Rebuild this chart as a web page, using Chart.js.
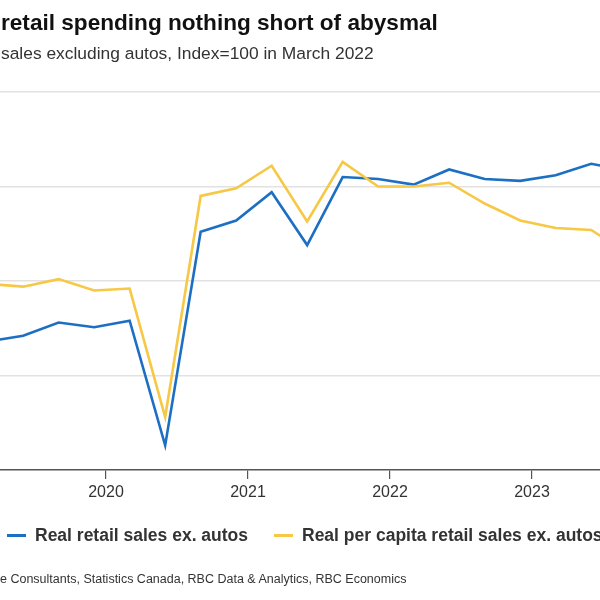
<!DOCTYPE html>
<html>
<head>
<meta charset="utf-8">
<script src="https://cdn.jsdelivr.net/npm/chart.js@4/dist/chart.umd.min.js"></script>
<style>
  html, body { margin: 0; padding: 0; background: #fff; }
  body { width: 600px; height: 600px; overflow: hidden; position: relative; font-family: "Liberation Sans", Arial, sans-serif; }
  #chart { position: absolute; left: -36px; top: 0; }
  .txt { position: absolute; white-space: nowrap; }
  #title { left: 1px; top: 10px; font-size: 22.6px; font-weight: bold; color: #111; line-height: 26px; }
  #subtitle { left: 1px; top: 43px; font-size: 17.4px; color: #333; line-height: 20px; }
  #source { left: 0px; top: 571px; font-size: 12.5px; color: #333; line-height: 16px; }
  .leg { position: absolute; top: 524px; height: 22px; display: flex; align-items: center; white-space: nowrap; font-size: 17.5px; font-weight: bold; color: #333; }
  .mark { display: inline-block; width: 19px; height: 3px; margin-right: 9px; }
</style>
</head>
<body>
<canvas id="chart" width="720" height="600"></canvas>
<div id="title" class="txt"></div>
<div id="subtitle" class="txt"></div>
<div id="legend"></div>
<div id="source" class="txt"></div>
<script>
// ---- data ----
const titleText = "retail spending nothing short of abysmal";
const subtitleText = "sales excluding autos, Index=100 in March 2022";
const sourceText = "e Consultants, Statistics Canada, RBC Data & Analytics, RBC Economics";

const categories = ['2019Q1','2019Q2','2019Q3','2019Q4','2020Q1','2020Q2','2020Q3','2020Q4',
                    '2021Q1','2021Q2','2021Q3','2021Q4','2022Q1','2022Q2','2022Q3','2022Q4',
                    '2023Q1','2023Q2','2023Q3'];
const realRetail = [91.8, 92.1, 92.8, 92.55, 92.9, 86.3, 97.6, 98.2, 99.7, 96.9, 100.5, 100.4,
                    100.1, 100.9, 100.4, 100.3, 100.6, 101.2, 100.85];
const perCapita  = [94.85, 94.7, 95.1, 94.5, 94.6, 87.8, 99.5, 99.9, 101.1, 98.15, 101.3, 100.0,
                    100.0, 100.2, 99.1, 98.2, 97.8, 97.7, 96.5];
const seriesNames = ['Real retail sales ex. autos', 'Real per capita retail sales ex. autos'];
const seriesColors = ['#1c6fc3', '#f6c845'];
const yearTicks = [2020, 2021, 2022, 2023];
const yTicks = [85, 90, 95, 100, 105];

// ---- build ----
document.getElementById('title').textContent = titleText;
document.getElementById('subtitle').textContent = subtitleText;
document.getElementById('source').textContent = sourceText;

const legendPos = [7, 274];
const legend = document.getElementById('legend');
seriesNames.forEach((n, i) => {
  const d = document.createElement('div');
  d.className = 'leg';
  d.style.left = legendPos[i] + 'px';
  const m = document.createElement('span');
  m.className = 'mark';
  m.style.background = seriesColors[i];
  d.appendChild(m);
  d.appendChild(document.createTextNode(n));
  legend.appendChild(d);
});

function quarterToX(c) {
  const y = parseInt(c.slice(0, 4), 10);
  const q = parseInt(c.slice(5), 10);
  return y + (3 * q - 1) / 12;
}
const toPts = arr => arr.map((v, i) => ({ x: quarterToX(categories[i]), y: v }));

new Chart(document.getElementById('chart'), {
  type: 'line',
  data: {
    datasets: [
      { label: seriesNames[0], data: toPts(realRetail), borderColor: seriesColors[0],
        borderWidth: 2.6, pointRadius: 0, tension: 0, fill: false, order: 1 },
      { label: seriesNames[1], data: toPts(perCapita), borderColor: seriesColors[1],
        borderWidth: 2.6, pointRadius: 0, tension: 0, fill: false, order: 0 }
    ]
  },
  options: {
    responsive: false,
    animation: false,
    layout: { padding: { top: 92, left: 0, right: 10, bottom: 0 } },
    plugins: { legend: { display: false }, tooltip: { enabled: false } },
    scales: {
      x: {
        type: 'linear', min: 2019, max: 2024,
        afterBuildTicks: s => { s.ticks = yearTicks.map(v => ({ value: v })); },
        afterFit: s => { s.height = 130; },
        ticks: { autoSkip: false, maxRotation: 0, padding: 4, color: '#333',
                 font: { family: 'Liberation Sans', size: 16 },
                 callback: v => String(v) },
        grid: { drawOnChartArea: false, drawTicks: true, tickLength: 9, color: '#555', lineWidth: 1.2 },
        border: { display: true, color: '#555', width: 1.5 }
      },
      y: {
        min: 85, max: 105,
        afterBuildTicks: s => { s.ticks = yTicks.map(v => ({ value: v })); },
        afterFit: s => { s.width = 0; },
        ticks: { display: false },
        grid: { drawTicks: false, lineWidth: 1.5,
                color: c => (c.tick && c.tick.value === 85) ? 'rgba(0,0,0,0)' : '#e2e2e2' },
        border: { display: false }
      }
    }
  }
});
</script>
</body>
</html>
